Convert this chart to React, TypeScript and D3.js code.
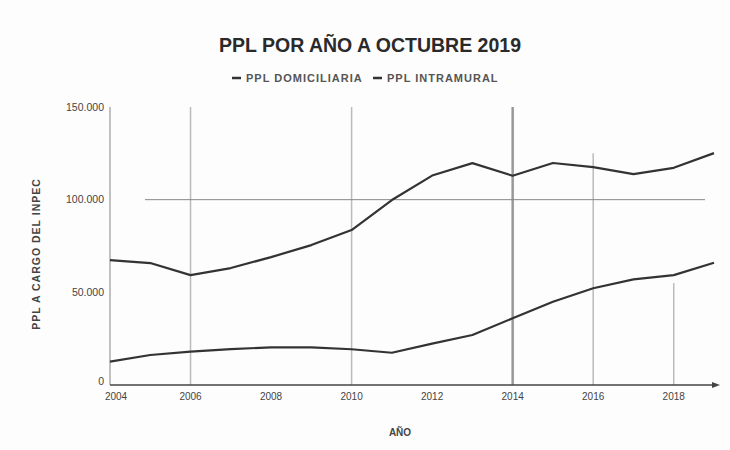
import React from "react";
import * as d3 from "d3";

const years = [2004, 2005, 2006, 2007, 2008, 2009, 2010, 2011, 2012, 2013, 2014, 2015, 2016, 2017, 2018, 2019];
const domiciliaria = [67400, 65800, 59300, 63100, 69000, 75500, 83600, 99800, 113000, 119700, 112900, 119800, 117600, 113800, 117200, 125100];
const intramural = [12600, 16200, 18000, 19400, 20300, 20300, 19300, 17400, 22300, 27000, 36000, 44900, 52200, 57000, 59300, 66000];
const seriesNames = ["PPL DOMICILIARIA", "PPL INTRAMURAL"];
const yTicks = [0, 50000, 100000, 150000];
const xTicks = [2004, 2006, 2008, 2010, 2012, 2014, 2016, 2018];
const vGridYears = [2006, 2010, 2014, 2016, 2018];
const vGridTops = [150000, 150000, 150000, 125000, 55000];
const hGridValues = [100000];

const W = 730, H = 450;
const FONT = "'Liberation Sans', Arial, sans-serif";

export default function App() {
  const x = d3.scaleLinear().domain([2004, 2019]).range([110, 714]);
  const y = d3.scaleLinear().domain([0, 150000]).range([385, 107]);
  const line = d3
    .line<number>()
    .x((_, i) => x(years[i]))
    .y((d) => y(d))
    .curve(d3.curveLinear);
  const fmt = (v: number) => (v === 0 ? "0" : d3.format(",")(v).replace(/,/g, "."));

  return (
    <svg width={W} height={H} style={{ position: "absolute", left: 0, top: 0, background: "#fff" }} fontFamily={FONT}>
      <rect x={0} y={0} width={W} height={H} fill="#fdfdfd" />
      {/* title */}
      <text x={370} y={52} textAnchor="middle" fontSize={19.5} fontWeight="bold" fill="#2a2a2a">
        PPL POR AÑO A OCTUBRE 2019
      </text>
      {/* legend */}
      <g fontSize={11} fontWeight="bold" fill="#555">
        <line x1={232} x2={241} y1={78} y2={78} stroke="#333" strokeWidth={2.5} />
        <text x={246} y={82} letterSpacing={1}>{seriesNames[0]}</text>
        <line x1={373} x2={382} y1={78} y2={78} stroke="#333" strokeWidth={2.5} />
        <text x={387} y={82} letterSpacing={1}>{seriesNames[1]}</text>
      </g>
      {/* grid */}
      {vGridYears.map((yr, i) => (
        <line key={yr} x1={x(yr)} x2={x(yr)} y1={y(vGridTops[i])} y2={y(0)}
          stroke={yr === 2014 ? "#999" : "#bbb"} strokeWidth={yr === 2014 ? 2.5 : 1.5} />
      ))}
      {hGridValues.map((v) => (
        <line key={v} x1={145} x2={705} y1={y(v)} y2={y(v)} stroke="#888" strokeWidth={1} />
      ))}
      {/* y axis */}
      <line x1={110} x2={110} y1={y(150000)} y2={y(0)} stroke="#999" strokeWidth={1.2} />
      {yTicks.map((t) => (
        <text key={t} x={104} y={y(t) + (t === 0 ? 0 : 3.5)} textAnchor="end" fontSize={10.5} fill="#444">
          {fmt(t)}
        </text>
      ))}
      {/* x axis */}
      <line x1={110} x2={712} y1={y(0)} y2={y(0)} stroke="#444" strokeWidth={1.5} />
      <path d={`M712,${y(0) - 3} L720,${y(0)} L712,${y(0) + 3} Z`} fill="#444" />
      {xTicks.map((t) => (
        <text key={t} x={x(t) + (t === 2004 ? 6 : 0)} y={y(0) + 15} textAnchor="middle" fontSize={10} fill="#444">
          {t}
        </text>
      ))}
      {/* axis titles */}
      <text x={400} y={436} textAnchor="middle" fontSize={10} fontWeight="bold" fill="#444">AÑO</text>
      <text transform={`translate(40,254) rotate(-90)`} textAnchor="middle" fontSize={10.5} fontWeight="bold" fill="#444" letterSpacing={1}>
        PPL A CARGO DEL INPEC
      </text>
      {/* lines */}
      <path d={line(domiciliaria) || ""} fill="none" stroke="#333" strokeWidth={2.2} strokeLinejoin="round" />
      <path d={line(intramural) || ""} fill="none" stroke="#333" strokeWidth={2.2} strokeLinejoin="round" />
    </svg>
  );
}
